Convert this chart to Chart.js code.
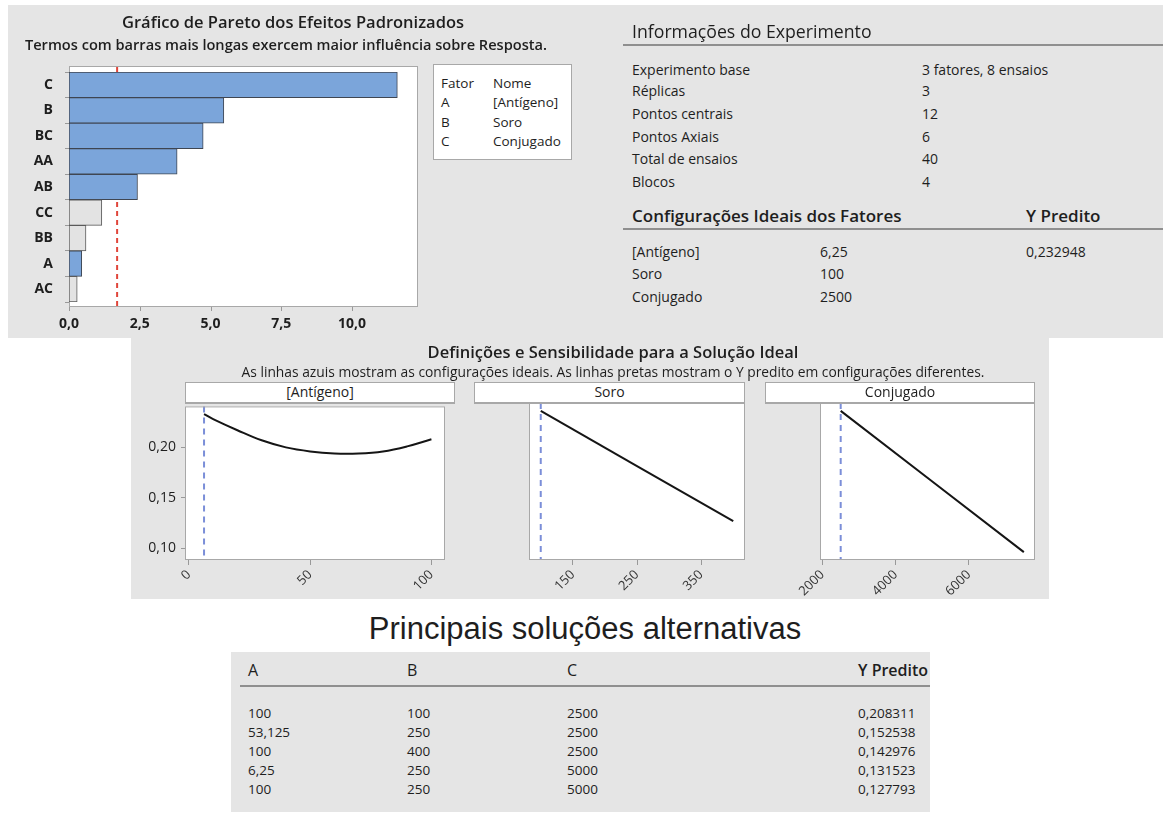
<!DOCTYPE html>
<html>
<head>
<meta charset="utf-8">
<script src="https://cdn.jsdelivr.net/npm/chart.js@4.4.0/dist/chart.umd.min.js"></script>
<style>
  body { margin: 0; width: 1163px; height: 827px; position: relative; overflow: hidden; background: #fff; font-family: "Open Sans", sans-serif; color: #1e1e1e; }
  .bg { position: absolute; background: #e5e5e5; }
  .t { position: absolute; white-space: nowrap; line-height: 1; }
  .box { position: absolute; background: #fff; border: 1px solid #a8a8a8; box-sizing: border-box; }
  .rule { position: absolute; height: 2px; background: #8f8f8f; }
  canvas { position: absolute; }
</style>
</head>
<body>
<div class="bg" style="left:8px;top:5px;width:1155px;height:333px"></div>
<div class="bg" style="left:131px;top:338px;width:918px;height:261px"></div>
<div class="bg" style="left:231px;top:652px;width:699px;height:160px"></div>

<canvas id="pareto" width="600" height="340" style="left:0;top:0"></canvas>
<canvas id="sens1" width="325" height="206" style="left:130px;top:393px"></canvas>
<canvas id="sens2" width="326" height="206" style="left:429px;top:393px"></canvas>
<canvas id="sens3" width="325" height="206" style="left:720px;top:393px"></canvas>

<script>
// Pareto dos efeitos padronizados
const paretoTerms = ['C', 'B', 'BC', 'AA', 'AB', 'CC', 'BB', 'A', 'AC'];
const paretoEffects = [11.6, 5.47, 4.74, 3.82, 2.42, 1.16, 0.6, 0.45, 0.29];
const paretoSignificant = [1, 1, 1, 1, 1, 0, 0, 1, 0];
const paretoRef = 1.70;
const paretoXTicks = [0, 2.5, 5, 7.5, 10];

// legenda dos fatores
const factorCodes = ['A', 'B', 'C'];
const factorNames = ['[Antígeno]', 'Soro', 'Conjugado'];

// informacoes do experimento
const infoLabels = ['Experimento base', 'Réplicas', 'Pontos centrais', 'Pontos Axiais', 'Total de ensaios', 'Blocos'];
const infoValues = ['3 fatores, 8 ensaios', '3', '12', '6', '40', '4'];
const optimalSettings = [6.25, 100, 2500];
const optimalY = 0.232948;

// curvas de sensibilidade
const antigenoX = [6.25, 10, 20, 30, 40, 50, 60, 70, 80, 90, 100];
const antigenoY = [0.233, 0.228, 0.217, 0.207, 0.200, 0.196, 0.194, 0.194, 0.196, 0.201, 0.208];
const soroX = [100, 400];
const soroY = [0.233, 0.126];
const conjugadoX = [2500, 7500];
const conjugadoY = [0.233, 0.096];
const sensYTicks = [0.10, 0.15, 0.20];
const antigenoTicks = [0, 50, 100];
const soroTicks = [150, 250, 350];
const conjugadoTicks = [2000, 4000, 6000];

// solucoes alternativas
const altCols = ['A', 'B', 'C', 'Y Predito'];
const altA = [100, 53.125, 100, 6.25, 100];
const altB = [100, 250, 400, 250, 250];
const altC = [2500, 2500, 2500, 5000, 5000];
const altY = [0.208311, 0.152538, 0.142976, 0.131523, 0.127793];

const FONT = "'Open Sans', sans-serif";
Chart.defaults.font.family = FONT;
const fmt = (v, d) => (d == null ? String(v) : v.toFixed(d)).replace('.', ',');

function txt(s, x, y, css, align) {
  const d = document.createElement('div');
  d.className = 't';
  d.textContent = s;
  d.style.cssText = css || '';
  d.style.left = x + 'px';
  d.style.top = y + 'px';
  const tx = align === 'center' ? '-50%' : align === 'right' ? '-100%' : '0';
  d.style.transform = 'translate(' + tx + ', -50%)';
  document.body.appendChild(d);
}
function el(cls, css) {
  const d = document.createElement('div');
  d.className = cls;
  d.style.cssText = css;
  document.body.appendChild(d);
  return d;
}

// ---- Pareto chart ----
const paretoFrame = {
  id: 'paretoFrame',
  beforeDraw(chart) {
    const { ctx, chartArea: a } = chart;
    ctx.save();
    ctx.fillStyle = '#fff';
    ctx.fillRect(a.left, a.top - 6, a.right - a.left, a.bottom - a.top + 11);
    ctx.strokeStyle = '#a8a8a8';
    ctx.lineWidth = 1;
    ctx.strokeRect(a.left + 0.5, a.top - 5.5, a.right - a.left - 1, a.bottom - a.top + 10);
    // tick marks under the frame
    const x = chart.scales.x;
    ctx.strokeStyle = '#999';
    x.ticks.forEach(t => {
      const px = Math.round(x.getPixelForValue(t.value)) + 0.5;
      ctx.beginPath();
      ctx.moveTo(px, a.bottom + 5);
      ctx.lineTo(px, a.bottom + 9);
      ctx.stroke();
    });
    ctx.restore();
  },
  beforeDatasetsDraw(chart) {
    const { ctx, chartArea: a, scales: { x } } = chart;
    const rx = x.getPixelForValue(paretoRef);
    ctx.save();
    ctx.strokeStyle = '#e0453a';
    ctx.lineWidth = 2;
    ctx.setLineDash([5, 4]);
    ctx.beginPath();
    ctx.moveTo(rx, a.top - 5);
    ctx.lineTo(rx, a.bottom + 4);
    ctx.stroke();
    ctx.restore();
  }
};

new Chart(document.getElementById('pareto'), {
  type: 'bar',
  data: {
    labels: paretoTerms,
    datasets: [{
      data: paretoEffects,
      backgroundColor: paretoSignificant.map(s => s ? '#7ba5da' : '#e3e3e3'),
      borderColor: paretoSignificant.map(s => s ? '#3f4652' : '#5a5a5a'),
      borderWidth: 1,
      borderSkipped: false,
      barPercentage: 1,
      categoryPercentage: 1
    }]
  },
  options: {
    indexAxis: 'y',
    responsive: false,
    animation: false,
    layout: { padding: { left: 0, top: 72, right: 182, bottom: 0 } },
    plugins: { legend: { display: false }, tooltip: { enabled: false } },
    scales: {
      x: {
        type: 'linear', min: 0, max: 12.33,
        border: { display: false },
        grid: { display: false, drawTicks: false },
        afterBuildTicks: s => { s.ticks = paretoXTicks.map(v => ({ value: v })); },
        afterFit: s => { s.height = 38; },
        ticks: { padding: 14, color: '#1e1e1e', font: { size: 14, weight: 'bold' }, callback: v => fmt(v, 1) }
      },
      y: {
        border: { display: false },
        grid: { drawOnChartArea: false, tickLength: 4, color: '#999' },
        afterFit: s => { s.width = 69; },
        ticks: { padding: 12, color: '#1e1e1e', font: { size: 14, weight: 'bold' } }
      }
    }
  },
  plugins: [paretoFrame]
});

// ---- sensitivity panels ----
const panelFrame = {
  id: 'panelFrame',
  beforeDraw(chart) {
    const { ctx, chartArea: a } = chart;
    ctx.save();
    ctx.fillStyle = '#fff';
    ctx.fillRect(a.left, a.top, a.right - a.left, a.bottom - a.top);
    ctx.restore();
  },
  beforeDatasetsDraw(chart, args, opts) {
    const { ctx, chartArea: a, scales: { x } } = chart;
    const px = x.getPixelForValue(opts.optimum);
    ctx.save();
    ctx.strokeStyle = '#7b8ed8';
    ctx.lineWidth = 2;
    ctx.setLineDash([6, 5]);
    ctx.beginPath();
    ctx.moveTo(px, a.top);
    ctx.lineTo(px, a.bottom);
    ctx.stroke();
    ctx.restore();
  },
  afterDraw(chart) {
    const { ctx, chartArea: a } = chart;
    ctx.save();
    ctx.strokeStyle = '#a8a8a8';
    ctx.lineWidth = 1;
    ctx.strokeRect(a.left + 0.5, a.top + 0.5, a.right - a.left - 1, a.bottom - a.top - 1);
    ctx.restore();
  }
};

function sensChart(id, xs, ys, xMin, xMax, xTicks, optimum, showY, padLeft) {
  new Chart(document.getElementById(id), {
    type: 'line',
    data: {
      datasets: [{
        data: xs.map((v, i) => ({ x: v, y: ys[i] })),
        borderColor: '#151515',
        borderWidth: 2,
        pointRadius: 0,
        tension: 0.4
      }]
    },
    options: {
      responsive: false,
      animation: false,
      layout: { padding: { left: padLeft, top: 10, right: 10, bottom: 0 } },
      plugins: { legend: { display: false }, tooltip: { enabled: false }, panelFrame: { optimum } },
      scales: {
        x: {
          type: 'linear', min: xMin, max: xMax,
          border: { display: false },
          grid: { drawOnChartArea: false, tickLength: 5, color: '#999' },
          afterBuildTicks: s => { s.ticks = xTicks.map(v => ({ value: v })); },
          afterFit: s => { s.height = 39; },
          ticks: { autoSkip: false, minRotation: 45, maxRotation: 45, padding: 2, color: '#333', font: { size: 13 }, callback: v => String(v) }
        },
        y: {
          display: showY,
          min: 0.0884, max: 0.2406,
          border: { display: false },
          grid: { drawOnChartArea: false, tickLength: 4, color: '#999' },
          afterBuildTicks: s => { s.ticks = sensYTicks.map(v => ({ value: v })); },
          afterFit: s => { s.width = 55; },
          ticks: { padding: 5, color: '#1e1e1e', font: { size: 14 }, callback: v => fmt(v, 2) }
        }
      }
    },
    plugins: [panelFrame]
  });
}

sensChart('sens1', antigenoX, antigenoY, -1.6, 105.6, antigenoTicks, optimalSettings[0], true, 0);
sensChart('sens2', soroX, soroY, 81.7, 418.3, soroTicks, optimalSettings[1], false, 45);
sensChart('sens3', conjugadoX, conjugadoY, 1935, 7804, conjugadoTicks, optimalSettings[2], false, 45);

// panel headers
const panels = [[185, 455], [474, 745], [765, 1035]];
panels.forEach((p, i) => {
  el('box', 'left:' + p[0] + 'px;top:382px;width:' + (p[1] - p[0]) + 'px;height:22px;border-bottom:2px solid #a8a8a8');
  txt(factorNames[i], (p[0] + p[1]) / 2, 392, 'font-size:14px', 'center');
});

// ---- texts ----
txt('Gráfico de Pareto dos Efeitos Padronizados', 293, 22, 'font-size:16.5px;font-weight:600', 'center');
txt('Termos com barras mais longas exercem maior influência sobre Resposta.', 286, 44, 'font-size:14.6px;font-weight:600', 'center');

el('box', 'left:433px;top:64px;width:139px;height:96px');
txt('Fator', 441, 84, 'font-size:13.5px');
txt('Nome', 493, 84, 'font-size:13.5px');
factorCodes.forEach((c, i) => {
  txt(c, 441, 103 + i * 19.5, 'font-size:13.5px');
  txt(factorNames[i], 493, 103 + i * 19.5, 'font-size:13.5px');
});

txt('Informações do Experimento', 632, 32, 'font-size:17.7px');
el('rule', 'left:623px;top:44px;width:540px');
const infoRowY = [70, 91, 114, 137, 159, 182];
infoLabels.forEach((l, i) => {
  txt(l, 632, infoRowY[i], 'font-size:14px');
  txt(infoValues[i], 922, infoRowY[i], 'font-size:14px');
});

txt('Configurações Ideais dos Fatores', 632, 215, 'font-size:17px;font-weight:600');
txt('Y Predito', 1026, 215, 'font-size:17px;font-weight:600');
el('rule', 'left:623px;top:228px;width:540px');
const optRowY = [252, 274, 297];
factorNames.forEach((n, i) => {
  txt(n, 632, optRowY[i], 'font-size:14px');
  txt(fmt(optimalSettings[i]), 820, optRowY[i], 'font-size:14px');
});
txt(fmt(optimalY, 6), 1026, optRowY[0], 'font-size:14px');

txt('Definições e Sensibilidade para a Solução Ideal', 613, 352, 'font-size:16.5px;font-weight:600', 'center');
txt('As linhas azuis mostram as configurações ideais. As linhas pretas mostram o Y predito em configurações diferentes.', 613, 372, 'font-size:13.8px', 'center');

// ---- tabela ----
txt('Principais soluções alternativas', 585, 628, "font-family:'Liberation Sans',Arial,sans-serif;font-size:31px", 'center');
const colX = [248, 407, 567, 858];
altCols.forEach((c, i) => txt(c, colX[i], 670, 'font-size:16px;font-weight:' + (i === 3 ? 600 : 400)));
el('rule', 'left:240px;top:685px;width:690px');
const rowY = [714, 733, 752, 771, 790];
altA.forEach((a, i) => {
  txt(fmt(a), colX[0], rowY[i], 'font-size:13.5px');
  txt(fmt(altB[i]), colX[1], rowY[i], 'font-size:13.5px');
  txt(fmt(altC[i]), colX[2], rowY[i], 'font-size:13.5px');
  txt(fmt(altY[i], 6), colX[3], rowY[i], 'font-size:13.5px');
});
</script>
</body>
</html>
